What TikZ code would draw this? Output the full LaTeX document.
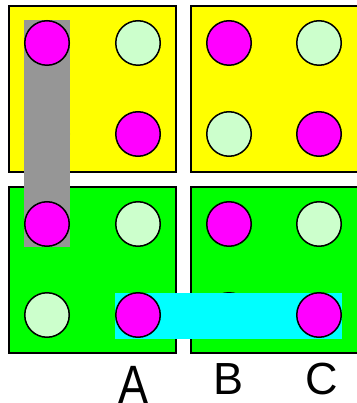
\documentclass[tikz,border=0pt]{standalone}
\usepackage{fontspec}
\setmainfont{Liberation Sans}
\definecolor{lgreen}{RGB}{204,255,204}
\definecolor{mag}{RGB}{255,0,255}
\definecolor{ylw}{RGB}{255,255,0}
\definecolor{grn}{RGB}{0,255,0}
\definecolor{cyn}{RGB}{0,255,255}
\definecolor{gry}{RGB}{150,150,150}
\tikzset{
  panel/.style={draw=black, line width=2pt},
  dot/.style={circle, draw=black, line width=1.5pt, minimum size=44.5pt, inner sep=0pt},
  mdot/.style={dot, fill=mag},
  ldot/.style={dot, fill=lgreen},
  lbl/.style={anchor=base, inner sep=0pt, font=\fontsize{45}{54}\selectfont}
}
\begin{document}
\begin{tikzpicture}[x=1pt,y=-1pt]
\useasboundingbox (0,0) rectangle (356,403);
% panels
\draw[panel, fill=ylw] (9.3,5.7) rectangle (176,172);
\draw[panel, fill=ylw] (190.5,5.7) rectangle (357.5,172);
\draw[panel, fill=grn] (9.3,186.5) rectangle (176,353);
\draw[panel, fill=grn] (190.5,186.5) rectangle (357.5,353);
% top-left panel
\node[mdot] (a1) at (47,43) {};
\node[ldot] (a2) at (138,43) {};
\node[ldot] (a3) at (47,134) {};
\node[mdot] (a4) at (138,134) {};
% top-right panel
\node[mdot] (b1) at (229,43) {};
\node[ldot] (b2) at (319,43) {};
\node[ldot] (b3) at (229,134) {};
\node[mdot] (b4) at (319,134) {};
% bottom-left panel
\node[ldot] (c2) at (138,224) {};
\node[ldot] (c3) at (47,315) {};
% bottom-right panel
\node[mdot] (d1) at (229,224) {};
\node[ldot] (d2) at (319,224) {};
\node[ldot] (d3) at (229,315) {};
% highlight bars
\fill[gry] (24,20) rectangle (70,247);
\fill[cyn] (115,293) rectangle (342,339);
% dots on top of bars
\node[mdot] (a1t) at (47,43) {};
\node[mdot] (c1) at (47,224) {};
\node[mdot] (c4) at (138,315) {};
\node[mdot] (d4) at (319,315) {};
% labels
\node[lbl, yscale=1.2] (la) at (133.5,403) {A};
\node[lbl] (lb) at (228.5,394) {B};
\node[lbl] (lc) at (322,394.5) {C};
\end{tikzpicture}
\end{document}
